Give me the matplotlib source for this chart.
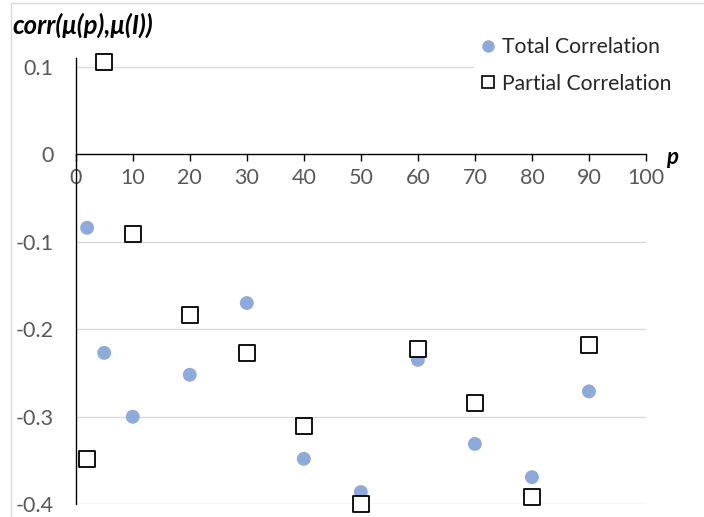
import matplotlib
matplotlib.use("Agg")
import matplotlib.pyplot as plt
from matplotlib.patches import Rectangle
from matplotlib.lines import Line2D

p_values = [2, 5, 10, 20, 30, 40, 50, 60, 70, 80, 90]
total_corr = [-0.084, -0.227, -0.300, -0.252, -0.170, -0.348, -0.386, -0.235, -0.331, -0.369, -0.271]
partial_corr = [-0.348, 0.106, -0.091, -0.184, -0.227, -0.310, -0.400, -0.222, -0.284, -0.392, -0.218]
x_ticks = [0, 10, 20, 30, 40, 50, 60, 70, 80, 90, 100]
y_ticks = [-0.4, -0.3, -0.2, -0.1, 0, 0.1]
y_tick_labels = ["-0.4", "-0.3", "-0.2", "-0.1", "0", "0.1"]

FONT = ["Lato", "DejaVu Sans"]
plt.rcParams["font.family"] = FONT

W, H = 704, 517
fig = plt.figure(figsize=(W / 100, H / 100), dpi=100)

# chart-area border (partially outside the image)
fig.patches.append(Rectangle((11 / W, -0.1), 2, (1 - 3 / H) + 0.1, transform=fig.transFigure,
                             fill=False, edgecolor="#d9d9d9", linewidth=1.0))

left, right = 75.7 / W, 646 / W
bottom, top = 1 - 504.3 / H, 1 - 58 / H
ax = fig.add_axes([left, bottom, right - left, top - bottom])
ax.set_xlim(0, 100)
ax.set_ylim(-0.4, 0.11)

for y in y_ticks:
    if y != 0:
        ax.axhline(y, color="#d9d9d9", linewidth=1.0, zorder=0)

ax.spines["top"].set_visible(False)
ax.spines["right"].set_visible(False)
ax.spines["left"].set_color("black")
ax.spines["left"].set_linewidth(1.0)
ax.spines["bottom"].set_position(("data", 0))
ax.spines["bottom"].set_color("black")
ax.spines["bottom"].set_linewidth(1.0)

ax.set_xticks(x_ticks)
ax.set_xticklabels([str(v) for v in x_ticks])
ax.set_yticks(y_ticks)
ax.set_yticklabels(y_tick_labels)
ax.tick_params(axis="x", direction="out", length=5, width=1.0, color="black",
               labelsize=15.5, labelcolor="#595959", pad=5)
ax.tick_params(axis="y", length=0, labelsize=15.5, labelcolor="#595959", pad=16)

ax.scatter(p_values, total_corr, s=100, color="#8eaadb", edgecolors="none", zorder=3,
           clip_on=False, label="Total Correlation")
ax.scatter(p_values, partial_corr, s=120, marker="s", facecolors="white", edgecolors="black",
           linewidths=1.3, zorder=4, clip_on=False, label="Partial Correlation")

fig.text(12.7 / W, 1 - 25 / H, "corr(μ(p),μ(I))", fontsize=18.5, fontweight="bold",
         fontstyle="italic", va="center", ha="left", color="black")
fig.text(666 / W, 1 - 158 / H, "p", fontsize=16, fontweight="bold", fontstyle="italic",
         va="center", ha="left", color="black")

handles = [
    Line2D([], [], marker="o", linestyle="none", markersize=9, markerfacecolor="#8eaadb",
           markeredgecolor="none"),
    Line2D([], [], marker="s", linestyle="none", markersize=9, markerfacecolor="white",
           markeredgecolor="black", markeredgewidth=1.2),
]
leg = fig.legend(handles, ["Total Correlation", "Partial Correlation"],
                 loc="upper left", bbox_to_anchor=(474 / W, 1 - 31 / H),
                 frameon=True, fontsize=15.2, handlelength=0.7, handletextpad=0.35,
                 labelspacing=0.78, borderpad=0.3, borderaxespad=0)
leg.get_frame().set_facecolor("white")
leg.get_frame().set_edgecolor("none")
leg.get_frame().set_alpha(1.0)
for t in leg.get_texts():
    t.set_color("#262626")

fig.savefig("out.png", dpi=100)
